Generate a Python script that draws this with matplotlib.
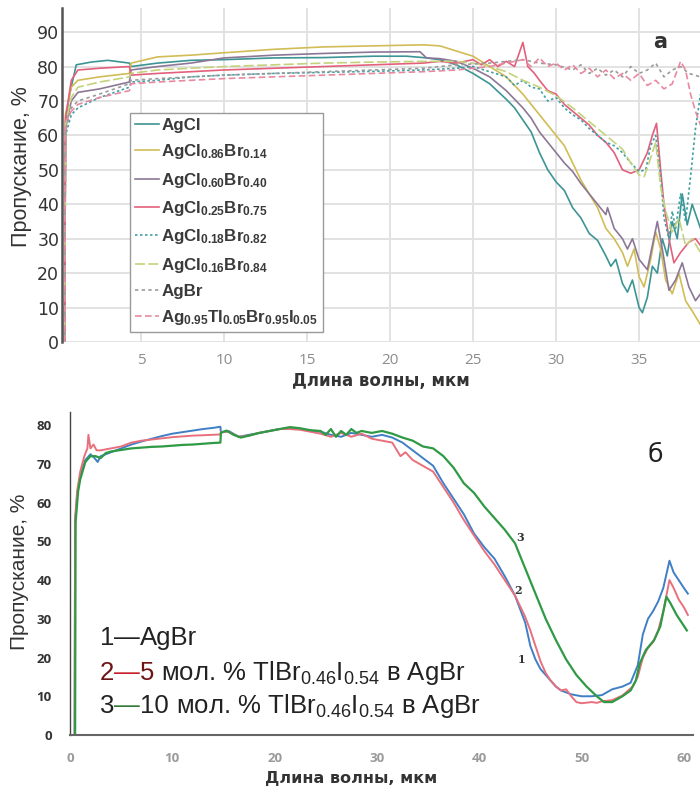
import matplotlib
matplotlib.use("Agg")
import matplotlib.pyplot as plt

plt.rcParams['mathtext.default'] = 'regular'
plt.rcParams['font.family'] = ['Liberation Sans', 'DejaVu Sans']

W, H = 700, 796

# ---------------- panel a: transmission of AgCl-AgBr crystals ----------------
agcl_x = [0.40, 0.45, 0.7, 1.1, 2.0, 3.0, 4.3, 4.4, 6, 8, 10, 13, 16, 19, 21, 22, 23, 24, 25, 26, 27,
          27.5, 28, 28.5, 29, 29.5, 30, 30.5, 31, 31.5, 32, 32.5, 33, 33.3, 33.6, 34, 34.3, 34.6, 35, 35.2,
          35.5, 35.8, 36.1, 36.4, 36.7, 37, 37.3, 37.6, 37.9, 38.2, 38.7]
agcl_y = [0, 64, 72, 80.5, 81.3, 81.8, 81, 80, 81, 81.8, 82, 82.5, 82.6, 83, 83, 82.6, 82, 80.5, 78, 75, 70.5,
          68, 64.5, 61, 55, 50, 46.5, 44, 39, 36, 31.5, 29.5, 25, 22, 24, 17, 14.5, 18, 10, 8.5,
          13, 22, 20, 30, 25, 35, 30, 43, 34, 40, 33]

br14_x = [0.40, 0.45, 0.8, 1.2, 2.5, 4.3, 4.4, 6, 8, 10, 13, 16, 19, 22, 23, 24, 25, 26, 27, 28, 29, 30,
          30.5, 31, 31.5, 32, 32.5, 33, 33.5, 34, 34.3, 34.7, 35, 35.3, 35.7, 36, 36.3, 36.6, 37, 37.4,
          37.8, 38.2, 38.7]
br14_y = [0, 66, 74, 76, 77, 78, 81, 82.8, 83.3, 84, 85, 85.7, 86, 86.3, 86, 84.5, 83, 80, 77, 72, 66, 60,
          57, 52, 47, 43, 39, 33, 30, 26, 22, 27, 19, 16, 24, 32, 27, 18, 14, 20,
          12, 9, 5]

br40_x = [0.40, 0.45, 0.8, 1.2, 2.5, 4.3, 4.4, 6, 8, 10, 13, 16, 19, 21.8, 22.2, 23, 24, 25, 26, 27, 28,
          28.5, 29, 29.5, 30, 30.5, 31, 31.5, 32, 32.5, 33, 33.1, 33.5, 34, 34.3, 34.6, 35, 35.5, 35.8,
          36.1, 36.4, 36.8, 37.2, 37.6, 38, 38.4, 38.7]
br40_y = [0, 62, 70, 72.5, 73.5, 75.5, 79, 80, 81, 82.5, 83.3, 83.8, 84.2, 84.3, 82.5, 82.3, 81.5, 79.5, 77, 73, 68,
          65, 61, 58, 55, 52, 49.5, 46, 43, 40, 37, 39, 33, 30, 27, 30, 24, 21, 28,
          35, 27, 15, 18, 23, 16, 12, 14]

br75_x = [0.40, 0.45, 0.8, 1.2, 2.5, 4.3, 4.4, 6, 8, 10, 13, 16, 19, 22, 23, 24, 25, 25.5, 26, 26.5, 27,
          27.5, 28, 28.3, 28.7, 29, 29.5, 30, 30.5, 31, 31.5, 32, 32.5, 33, 33.5, 34, 34.5, 35, 35.5,
          35.8, 36.05, 36.3, 36.5, 36.8, 37.1, 37.5, 38, 38.4, 38.7]
br75_y = [0, 65, 76, 79, 79.5, 80, 77.5, 78, 78.5, 79, 79.5, 80, 80.5, 81, 81.5, 81, 82, 80.5, 82, 80, 81.5,
          80, 87, 80, 78, 76, 73, 72, 69, 67, 65, 63, 60, 58, 55, 50, 49, 50, 55,
          60, 63.5, 50, 40, 30, 23, 26, 29, 30, 28]

br82_x = [0.40, 0.45, 0.8, 1.2, 2.5, 4.3, 4.4, 6, 8, 10, 13, 16, 19, 22, 24, 25, 26, 27, 27.5, 28, 28.5,
          29, 29.5, 30, 30.5, 31, 31.5, 32, 32.5, 33, 33.5, 34, 34.5, 35, 35.4, 35.7, 36, 36.3, 36.5,
          36.8, 37, 37.2, 37.5, 37.8, 38.1, 38.4, 38.7]
br82_y = [0, 60, 66, 68, 71, 74, 75.5, 76, 77, 77.5, 78, 78.3, 78.6, 79, 79.5, 80, 78.5, 77, 74.5, 76, 74,
          73.5, 70, 71, 68, 66, 64.5, 62, 60, 58, 57, 55, 52, 49.5, 50, 57, 60, 48, 36,
          30, 38, 33, 43, 35, 48, 62, 72]

br84_x = [0.40, 0.45, 0.8, 1.2, 2.5, 4.3, 4.4, 6, 8, 10, 13, 16, 19, 22, 24, 25, 26, 27, 28, 29, 30, 31,
          32, 32.5, 33, 33.5, 34, 34.5, 35, 35.3, 35.6, 36, 36.3, 36.6, 37, 37.4, 37.8, 38.2, 38.7]
br84_y = [0, 63, 71, 74, 75.5, 77, 78, 79, 79.5, 80, 80.5, 81, 81.3, 81.5, 81.5, 81, 80, 78.5, 76, 74, 71.5, 68,
          64, 62, 60, 58, 56, 52, 48.5, 48, 52, 58, 45, 38, 32, 36, 28, 30, 26]

agbr_x = [0.40, 0.45, 0.8, 1.2, 2.5, 4.3, 4.4, 6, 8, 10, 13, 16, 19, 22, 24, 26, 28, 29, 30, 31, 31.5,
          32, 32.5, 33, 33.5, 34, 34.5, 35, 35.5, 36, 36.5, 37, 37.5, 38, 38.7]
agbr_y = [0, 61, 68, 70, 72, 75, 76, 76.5, 77, 77.5, 78, 78.5, 79, 79.5, 80.5, 81, 82, 81, 80.5, 79, 80.5,
          78, 79.5, 77.5, 79, 77, 80, 78, 79, 81, 77, 79, 80, 78, 77]

tl_x = [0.40, 0.45, 0.8, 1.2, 2.5, 4.3, 4.4, 6, 8, 10, 13, 16, 19, 22, 24, 26, 28, 28.5, 29, 29.5, 30,
        30.5, 31, 31.5, 32, 32.5, 33, 33.5, 34, 34.5, 35, 35.5, 36, 36.5, 37, 37.5, 37.8, 38.1, 38.4, 38.7]
tl_y = [0, 64, 67, 69, 71, 73, 75, 75.5, 76, 76.5, 77, 77.5, 78, 78.5, 79, 80, 82, 80, 82.5, 80, 81,
        79, 80.5, 78, 79.5, 77, 79, 76.5, 78, 76, 78, 74.5, 76, 73.5, 75, 81.5, 79, 72, 67, 63]

labels_a = [r"AgCl",
            r"AgCl$_{0.86}$Br$_{0.14}$",
            r"AgCl$_{0.60}$Br$_{0.40}$",
            r"AgCl$_{0.25}$Br$_{0.75}$",
            r"AgCl$_{0.18}$Br$_{0.82}$",
            r"AgCl$_{0.16}$Br$_{0.84}$",
            r"AgBr",
            r"Ag$_{0.95}$Tl$_{0.05}$Br$_{0.95}$I$_{0.05}$"]

# ---------------- panel б: AgBr doped with TlBr0.46I0.54 ----------------
s1_x = [0.45, 0.5, 0.7, 1.0, 1.5, 2.0, 2.4, 2.7, 3.0, 4, 5, 6, 7, 8, 9, 10, 11, 12, 13, 14, 14.7,
        14.75, 15.5, 16.5, 17.5, 18.5, 19.5, 20.5, 21.5, 22.5, 23.5, 24.5, 25.5, 26.5, 27.5, 28.5, 29.5,
        30.5, 31.5, 32.5, 33.5, 34.5, 35.5, 36.5, 37.5, 38.5, 39.5, 40.5, 41.5, 42.5, 43.5, 44.5, 45,
        45.5, 46, 46.5, 47, 47.5, 48, 49, 50, 51, 52, 53, 54, 54.8, 55.5, 56, 56.5, 57, 57.5, 58, 58.6,
        59, 59.5, 60, 60.4]
s1_y = [0, 55, 62, 67, 71, 72.5, 71.5, 70.5, 72, 73, 74, 75, 75.8, 76.5, 77.2, 77.8, 78.2, 78.6, 79, 79.3, 79.6,
        78.2, 78.5, 77, 77.5, 78, 78.5, 79, 79.2, 79, 78.5, 78.3, 77.5, 77, 78, 77.5, 77,
        77.5, 76.8, 75.5, 73.5, 71.5, 69.5, 65, 61, 57, 52, 48.5, 45.5, 41, 36, 29, 23,
        19.5, 17, 15.5, 14, 12.5, 11.5, 10.5, 10, 10, 10.3, 11.8, 12.5, 13.5, 18, 26, 30, 32, 34.5, 38, 45,
        42, 40, 38, 36.5]

s2_x = [0.45, 0.5, 0.7, 1.0, 1.4, 1.7, 1.8, 2.0, 2.3, 2.6, 3.0, 4, 5, 6, 7, 8, 9, 10, 11, 12, 13, 14.7,
        14.75, 15.5, 16.5, 17.5, 18.5, 19.5, 20.5, 21.5, 22.5, 23.5, 24.5, 25.5, 26.5, 27.5, 28.5, 29.5,
        30.5, 31.5, 32.3, 32.8, 33.5, 34.5, 35.5, 36.5, 37.5, 38.5, 39.5, 40.5, 41.5, 42.5, 43.5, 44.5,
        45, 45.5, 46, 46.5, 47, 47.5, 48, 48.5, 49, 49.5, 50, 51, 51.5, 52, 53, 54, 55, 55.5, 56, 56.5,
        57, 57.5, 58, 58.6, 59, 59.5, 60, 60.4]
s2_y = [0, 56, 63, 68, 72, 74, 77.5, 74, 75, 73.5, 73.5, 74, 74.5, 75.5, 76, 76.3, 76.6, 76.9, 77.1, 77.3, 77.4, 77.6,
        78.2, 78.3, 77, 77.3, 78, 78.5, 79, 79, 78.8, 78.3, 77.8, 77, 78, 77, 77.8, 76.5,
        76, 75.5, 72, 73, 71, 69.5, 68, 64, 60, 55.5, 51.5, 47.5, 44, 40, 36, 30.5,
        27, 23, 19, 16, 14, 12.5, 11.5, 11.8, 10, 8.5, 8.2, 8.5, 8.3, 8.7, 9, 10.2, 12.5, 15, 20, 22.5,
        24, 27, 32, 40, 38, 35, 33, 31]

s3_x = [0.5, 0.55, 0.8, 1.0, 1.5, 2.0, 2.5, 3.0, 3.5, 4, 5, 6, 7, 8, 9, 10, 11, 12, 13, 14, 14.7,
        14.75, 15.3, 16, 16.7, 17.5, 18.5, 19.5, 20.5, 21.5, 22.5, 23.5, 24.5, 25, 25.5, 26, 26.5, 27,
        27.5, 28, 28.5, 29.5, 30.5, 31.5, 32.5, 33.5, 34.5, 35.5, 36.5, 37.5, 38.5, 39.5, 40.5, 41.5,
        42.5, 43.5, 44.5, 45.5, 46.5, 47.5, 48.5, 49.5, 50.5, 51.5, 52.2, 53, 54, 54.8, 55.3, 55.7,
        56.3, 57.1, 57.7, 58.3, 58.7, 59.3, 59.8, 60.3]
s3_y = [0, 55, 63, 66, 70.5, 72, 72, 71.5, 72.8, 73.2, 73.6, 74, 74.2, 74.4, 74.5, 74.7, 74.9, 75, 75.2, 75.4, 75.5,
        78, 78.6, 77.5, 76.8, 77.3, 78, 78.5, 79, 79.5, 79.2, 78.7, 78.5, 77.5, 79, 77, 78.5, 77.5,
        79, 78, 78.5, 78, 78.5, 77.8, 76.8, 76, 74.5, 74, 72, 69, 65, 62.5, 59, 56,
        53, 49.5, 43, 36.5, 30, 24.5, 19.5, 15.5, 12.5, 10, 8.5, 8.5, 10, 11.5, 14, 18.5,
        22, 24.5, 28, 35.7, 34, 31, 29, 27]

curve_tags = ["1", "2", "3"]
tag_pos_x = [44.1, 43.8, 44.0]
tag_pos_y = [19.4, 37.2, 51.0]

fig = plt.figure(figsize=(W / 100, H / 100), dpi=100)

# ---------------- top panel ----------------
ax1 = fig.add_axes([62 / W, 1 - 342 / H, (W - 62) / W, 334 / H])
ax1.set_xlim(0.24, 38.67)
ax1.set_ylim(0, 97)
ax1.set_xticks([5, 10, 15, 20, 25, 30, 35])
ax1.set_yticks(range(0, 91, 10))
ax1.grid(True, color='#e2e2e2', lw=1.4)
ax1.set_axisbelow(True)
for s in ['top', 'right', 'bottom']:
    ax1.spines[s].set_visible(False)
ax1.spines['left'].set_color('#555555')
ax1.spines['left'].set_linewidth(1.8)
ax1.tick_params(length=0)
ax1.tick_params(axis='y', pad=2, labelsize=12.5, labelcolor='#333333')
ax1.tick_params(axis='x', pad=8, labelsize=11, labelcolor='#8c8c8c')
for lab in ax1.get_xticklabels():
    lab.set_family('Open Sans')
for lab in ax1.get_yticklabels():
    lab.set_family('DejaVu Sans')

series_a = [(agcl_x, agcl_y, '#3d9494', '-'),
            (br14_x, br14_y, '#d2bc55', '-'),
            (br40_x, br40_y, '#8c7896', '-'),
            (br75_x, br75_y, '#e3607c', '-'),
            (br82_x, br82_y, '#3fa0a4', (0, (1.5, 1.5))),
            (br84_x, br84_y, '#c5d27c', (0, (6, 2))),
            (agbr_x, agbr_y, '#9b9b9b', (0, (2, 2))),
            (tl_x, tl_y, '#e889a0', (0, (4, 2)))]
for (xs, ys, c, ls), lab in zip(series_a, labels_a):
    ax1.plot(xs, ys, color=c, ls=ls, lw=1.2, label=lab)

leg = ax1.legend(loc='upper left', bbox_to_anchor=(130 / W, 1 - 113 / H),
                 bbox_transform=fig.transFigure, borderaxespad=0, frameon=True,
                 fancybox=False, framealpha=1, edgecolor='#9a9a9a',
                 prop={'family': 'Liberation Sans', 'weight': 'bold', 'size': 12.2},
                 handlelength=1.4, handletextpad=0.15, labelspacing=0.55, borderpad=0.3)
leg.get_frame().set_linewidth(1.0)
for t in leg.get_texts():
    t.set_color('#3a3a3a')

fig.text(381 / W, 1 - 381 / H, "Длина волны, мкм", ha='center', va='center',
         family='DejaVu Sans', weight='bold', fontsize=12, color='#333333')
fig.text(22 / W, 1 - 167 / H, "Пропускание, %", ha='center', va='center', rotation=90,
         fontsize=15.5, color='#333333')
fig.text(660 / W, 1 - 42 / H, "a", ha='center', va='center', family='DejaVu Sans',
         weight='bold', fontsize=15, color='#333333')

# ---------------- bottom panel ----------------
ax2 = fig.add_axes([70 / W, 1 - 735 / H, 623 / W, 323 / H])
ax2.set_xlim(0.05, 60.9)
ax2.set_ylim(0, 83.4)
ax2.set_xticks(range(0, 61, 10))
ax2.set_yticks(range(0, 81, 10))
for s in ['top', 'right']:
    ax2.spines[s].set_visible(False)
ax2.spines['left'].set_color('#444444')
ax2.spines['left'].set_linewidth(1.0)
ax2.spines['bottom'].set_color('#666666')
ax2.spines['bottom'].set_linewidth(1.5)
ax2.tick_params(length=0)
ax2.tick_params(axis='y', pad=13, labelsize=9.5, labelcolor='#333333')
ax2.tick_params(axis='x', pad=12, labelsize=9.5, labelcolor='#9a9a9a')
for lab in ax2.get_xticklabels() + ax2.get_yticklabels():
    lab.set_family('Open Sans')
    lab.set_weight('bold')

ax2.plot(s1_x, s1_y, color='#3f7fc6', lw=1.4)
ax2.plot(s2_x, s2_y, color='#e8707c', lw=1.4)
ax2.plot(s3_x, s3_y, color='#2f9a44', lw=1.6)

for tag, tx, ty in zip(curve_tags, tag_pos_x, tag_pos_y):
    ax2.text(tx, ty, tag, ha='center', va='center', family='DejaVu Serif',
             weight='bold', fontsize=8, color='#333333')

fig.text(351 / W, 1 - 778 / H, "Длина волны, мкм", ha='center', va='center',
         family='DejaVu Sans', weight='bold', fontsize=11.5, color='#333333')
fig.text(20 / W, 1 - 572 / H, "Пропускание, %", ha='center', va='center', rotation=90,
         fontsize=15, color='#333333')
fig.text(655 / W, 1 - 455 / H, "б", ha='center', va='center', family='DejaVu Sans',
         fontsize=18, color='#222222')

# key lines written as coloured pieces on a common baseline
renderer = fig.canvas.get_renderer()
key_lines = [
    (645, [("1", '#222222'), ("—", '#222222'), ("AgBr", '#222222')]),
    (680, [("2", '#6e1414'), ("—", '#c8202c'), ("5", '#6e1414'),
           (r" мол. % TlBr$_{0.46}$I$_{0.54}$ в AgBr", '#222222')]),
    (713, [("3", '#222222'), ("—", '#2f7a35'), ("10", '#222222'),
           (r" мол. % TlBr$_{0.46}$I$_{0.54}$ в AgBr", '#222222')]),
]
for base_y, parts in key_lines:
    xp = 100
    for s, c in parts:
        t = fig.text(xp / W, 1 - base_y / H, s, color=c, fontsize=18.5,
                     family='Liberation Sans', ha='left', va='baseline')
        xp += t.get_window_extent(renderer).width

fig.savefig("out.png", dpi=100)
